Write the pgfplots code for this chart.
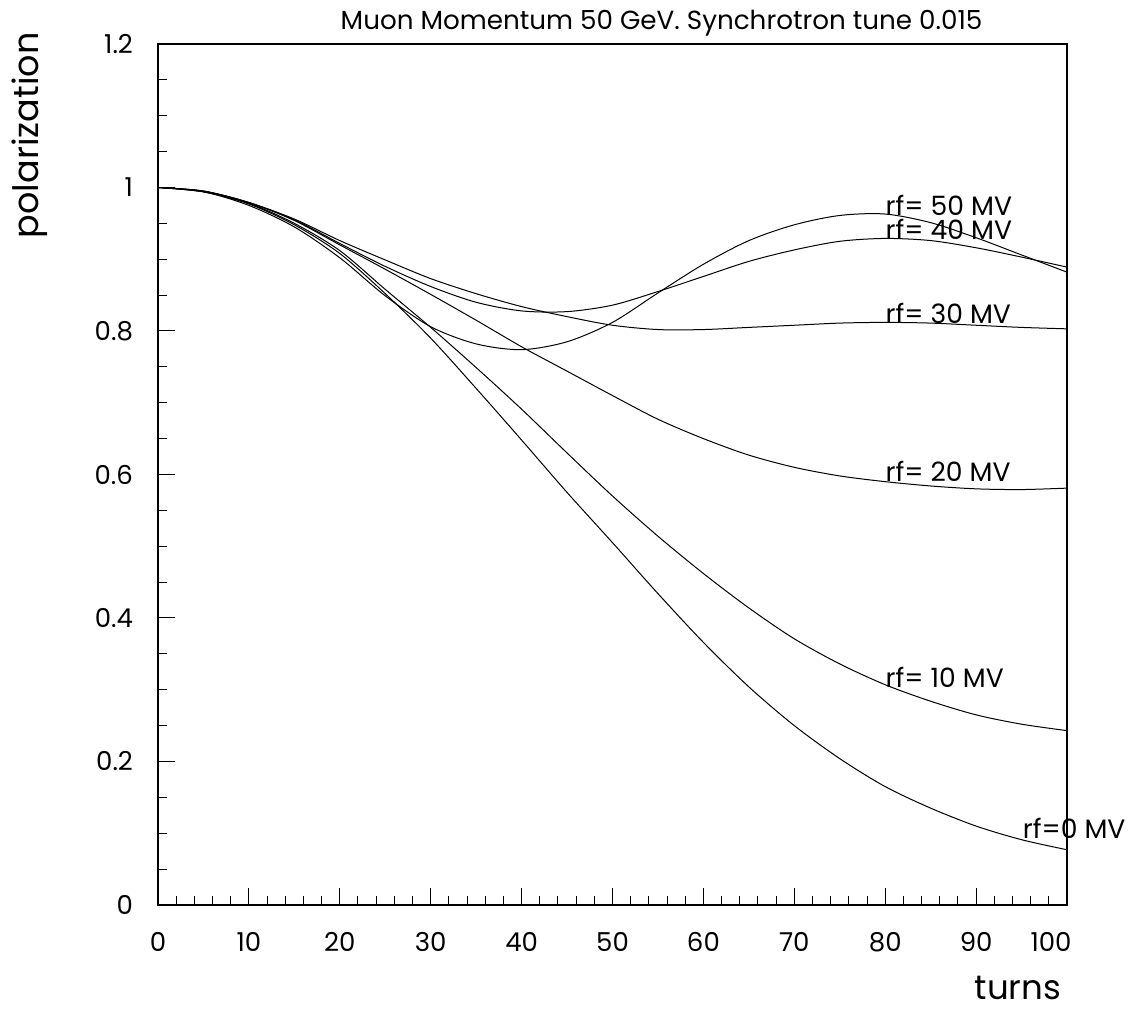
\documentclass[border=0pt]{standalone}
\usepackage{pgfplots}
\pgfplotsset{compat=1.18}
\usepackage{fontspec}
\setmainfont{Poppins}

\pgfplotstableread{
t    a     b     c     d     e     f
0    1.000 1.000 1.000 1.000 1.000 1.000
5    0.994 0.994 0.995 0.995 0.995 0.994
10   0.977 0.978 0.979 0.979 0.979 0.975
15   0.948 0.950 0.954 0.956 0.955 0.945
20   0.908 0.912 0.920 0.926 0.922 0.902
25   0.852 0.858 0.886 0.899 0.890 0.849
30   0.790 0.805 0.851 0.873 0.862 0.806
35   0.720 0.749 0.815 0.852 0.840 0.782
40   0.648 0.691 0.778 0.834 0.828 0.774
45   0.575 0.630 0.744 0.820 0.827 0.785
50   0.505 0.570 0.710 0.808 0.836 0.812
55   0.434 0.514 0.677 0.802 0.855 0.853
60   0.366 0.462 0.650 0.802 0.876 0.893
65   0.304 0.414 0.627 0.805 0.897 0.926
70   0.250 0.371 0.610 0.808 0.913 0.948
75   0.204 0.336 0.598 0.811 0.925 0.961
80   0.165 0.307 0.590 0.812 0.929 0.963
85   0.135 0.284 0.584 0.811 0.926 0.951
90   0.110 0.265 0.580 0.808 0.916 0.930
95   0.091 0.252 0.579 0.805 0.903 0.906
100  0.077 0.243 0.581 0.803 0.889 0.882
}\polar

\begin{document}
\begin{tikzpicture}
\begin{axis}[
  scale only axis, width=454.5pt, height=430.5pt,
  xmin=0, xmax=100, ymin=0, ymax=1.2,
  xtick={0,10,20,30,40,50,60,70,80,90,100},
  xticklabels={0,10,20,30,40,50,60,70,80,90,{\hspace*{-16pt}100}},
  ytick={0,0.2,0.4,0.6,0.8,1,1.2},
  minor x tick num=4, minor y tick num=3,
  xtick pos=left, ytick pos=left, tick align=inside,
  major tick length=8.5pt, minor tick length=4.3pt,
  axis line style={line width=1pt},
  every tick/.style={black, line width=0.5pt},
  tick label style={font=\fontsize{13}{15}\selectfont},
  /pgf/number format/assume math mode=true,
  yticklabel style={xshift=-9pt},
  xticklabel style={yshift=-10pt},
  clip=false,
]
\addplot[black, line width=0.5pt, smooth] table[x=t, y=a] {\polar};
\addplot[black, line width=0.5pt, smooth] table[x=t, y=b] {\polar};
\addplot[black, line width=0.5pt, smooth] table[x=t, y=c] {\polar};
\addplot[black, line width=0.5pt, smooth] table[x=t, y=d] {\polar};
\addplot[black, line width=0.5pt, smooth] table[x=t, y=e] {\polar};
\addplot[black, line width=0.5pt, smooth] table[x=t, y=f] {\polar};

\begin{scope}[every node/.style={font=\fontsize{13.3}{15}\selectfont, inner sep=0pt}]
\node[anchor=base west] at (axis cs:80,0.961) {rf= 50 MV};
\node[anchor=base west] at (axis cs:80,0.927) {rf= 40 MV};
\node[anchor=base west] at (axis cs:80,0.810) {rf= 30 MV};
\node[anchor=base west] at (axis cs:80,0.590) {rf= 20 MV};
\node[anchor=base west] at (axis cs:80,0.303) {rf= 10 MV};
\node[anchor=base west] at (axis cs:95.1,0.092) {rf=0 MV};
\node[anchor=base] at ([yshift=7pt]rel axis cs:0.554,1) {\fontsize{13.1}{15}\selectfont Muon Momentum 50 GeV. Synchrotron tune 0.015};
\node[rotate=90] at ([xshift=-64pt]rel axis cs:0,0.894) {\fontsize{17.5}{20}\selectfont polarization};
\node at ([yshift=-41.5pt]rel axis cs:0.946,0) {\fontsize{17}{19}\selectfont turns};
\end{scope}
\coordinate (bl) at (rel axis cs:0,0);
\end{axis}
\pgfresetboundingbox
\path ([shift={(-79pt,-58pt)}]bl) rectangle ([shift={(485pt,452.5pt)}]bl);
\end{tikzpicture}
\end{document}
